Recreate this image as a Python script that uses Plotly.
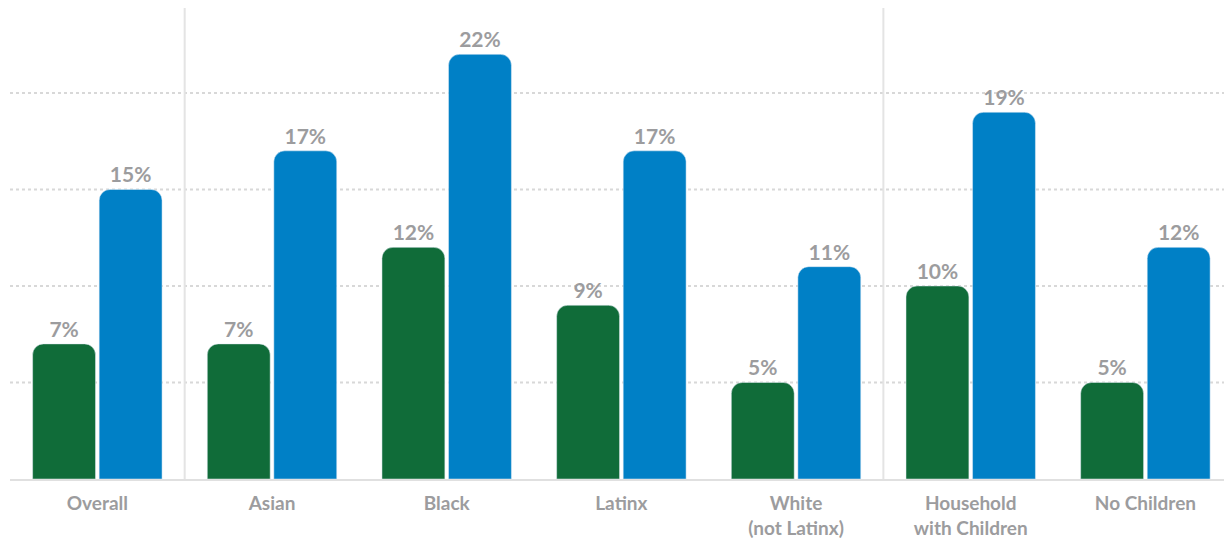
import plotly.graph_objects as go

categories = ["Overall", "Asian", "Black", "Latinx", "White<br>(not Latinx)",
              "Household<br>with Children", "No Children"]
green_values = [7, 7, 12, 9, 5, 10, 5]
blue_values = [15, 17, 22, 17, 11, 19, 12]
y_ticks = [5, 10, 15, 20]

GREEN = "#106c39"
BLUE = "#0080c6"
GRAY_TXT = "#9c9c9e"
FONT = "Lato"

x = list(range(len(categories)))

fig = go.Figure()
fig.add_trace(go.Bar(
    x=x, y=green_values, marker_color=GREEN,
    text=[f"{v}%" for v in green_values], textposition="outside",
    textfont=dict(family=FONT, size=21, color=GRAY_TXT, weight="bold"),
    cliponaxis=False, hoverinfo="skip",
))
fig.add_trace(go.Bar(
    x=x, y=blue_values, marker_color=BLUE,
    text=[f"{v}%" for v in blue_values], textposition="outside",
    textfont=dict(family=FONT, size=21, color=GRAY_TXT, weight="bold"),
    cliponaxis=False, hoverinfo="skip",
))

# dotted gridlines
for t in y_ticks:
    fig.add_shape(type="line", xref="paper", x0=0, x1=1, yref="y", y0=t, y1=t,
                  line=dict(color="#d8d8d8", width=2, dash="dot"), layer="below")

# group separators
for sx in [0.5, 4.5]:
    fig.add_shape(type="line", xref="x", x0=sx, x1=sx, yref="paper", y0=0, y1=1,
                  line=dict(color="#e4e4e4", width=2), layer="below")

fig.update_layout(
    width=1225, height=540,
    margin=dict(l=10, r=1, t=8, b=56),
    plot_bgcolor="white", paper_bgcolor="white",
    barmode="group", bargap=0.238, bargroupgap=0.055,
    barcornerradius=11,
    showlegend=False,
    font=dict(family=FONT),
)
fig.update_xaxes(
    tickmode="array", tickvals=x, ticktext=categories,
    range=[-0.5, 6.45], showgrid=False, zeroline=False,
    showline=True, linecolor="#e0e0e0", linewidth=2,
    tickfont=dict(family=FONT, size=19, color=GRAY_TXT, weight="bold"),
    ticks="", ticklabelstandoff=6,
)
fig.update_yaxes(range=[0, 24.4], showgrid=False, zeroline=False,
                 showticklabels=False, showline=False)

fig.write_html("out.html", config={"displayModeBar": False},
               post_script="document.body.style.margin='0';document.body.style.overflow='hidden';")
